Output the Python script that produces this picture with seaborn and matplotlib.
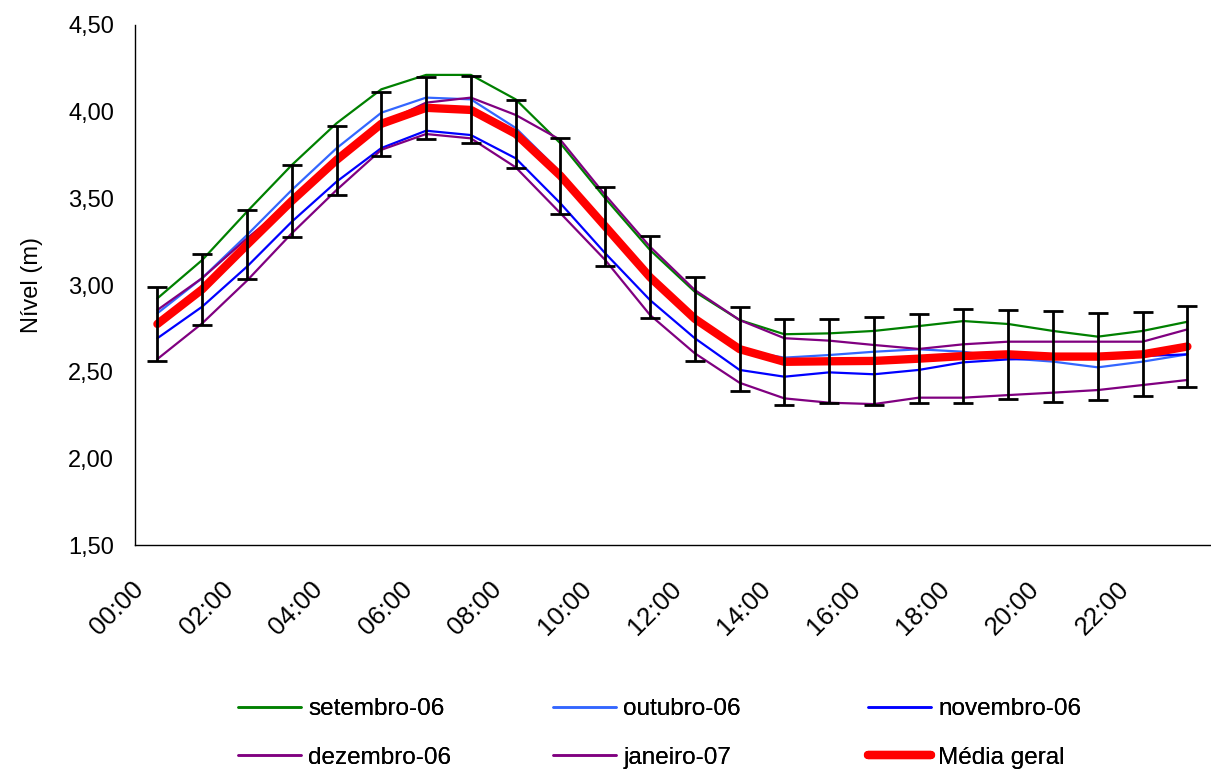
import matplotlib
matplotlib.use("Agg")
import matplotlib.pyplot as plt
import pandas as pd
import seaborn as sns
from matplotlib.ticker import FuncFormatter, FixedLocator

# Hours of the day (categories)
horas = ['%02d:00' % h for h in range(24)]

# Monthly mean level per hour (m)
setembro_06 = [2.923, 3.144, 3.423, 3.692, 3.933, 4.129, 4.212, 4.212, 4.071, 3.817, 3.500, 3.202,
               2.961, 2.798, 2.716, 2.721, 2.735, 2.763, 2.792, 2.775, 2.735, 2.702, 2.735, 2.788]
outubro_06 = [2.837, 3.040, 3.288, 3.548, 3.789, 3.994, 4.081, 4.071, 3.906, 3.650, 3.350, 3.060,
              2.790, 2.625, 2.581, 2.596, 2.615, 2.629, 2.615, 2.577, 2.558, 2.525, 2.558, 2.600]
novembro_06 = [2.693, 2.875, 3.106, 3.365, 3.596, 3.790, 3.890, 3.865, 3.731, 3.471, 3.183, 2.913,
               2.693, 2.510, 2.471, 2.496, 2.485, 2.510, 2.554, 2.571, 2.575, 2.580, 2.590, 2.600]
dezembro_06 = [2.856, 3.040, 3.269, 3.480, 3.710, 3.930, 4.052, 4.081, 3.981, 3.837, 3.519, 3.221,
               2.971, 2.798, 2.693, 2.679, 2.654, 2.631, 2.658, 2.673, 2.673, 2.673, 2.673, 2.744]
janeiro_07 = [2.573, 2.779, 3.025, 3.298, 3.548, 3.780, 3.871, 3.846, 3.679, 3.414, 3.144, 2.827,
              2.606, 2.436, 2.346, 2.321, 2.313, 2.350, 2.350, 2.365, 2.379, 2.394, 2.423, 2.452]

# overall mean and its error bar half-width
media_geral = [2.775, 2.975, 3.232, 3.485, 3.721, 3.930, 4.022, 4.010, 3.872, 3.630, 3.338, 3.045,
               2.805, 2.630, 2.557, 2.560, 2.562, 2.575, 2.590, 2.600, 2.587, 2.587, 2.600, 2.645]
erro = [0.213, 0.206, 0.198, 0.206, 0.199, 0.184, 0.178, 0.193, 0.197, 0.219, 0.228, 0.236,
        0.242, 0.243, 0.248, 0.241, 0.255, 0.256, 0.271, 0.255, 0.263, 0.250, 0.243, 0.234]

meses = ['setembro-06', 'outubro-06', 'novembro-06', 'dezembro-06', 'janeiro-07']
series = [setembro_06, outubro_06, novembro_06, dezembro_06, janeiro_07]
cores = ['#008000', '#3366FF', '#0000FF', '#800080', '#800080']

# long-form table for seaborn
df = pd.DataFrame({
    'pos': list(range(24)) * len(meses),
    'nivel': [v for s in series for v in s],
    'mes': [m for m in meses for _ in range(24)],
})
df_media = pd.DataFrame({'pos': range(24), 'nivel': media_geral, 'erro': erro})

sns.set_style('white')
plt.rcParams['font.family'] = ['Liberation Sans', 'DejaVu Sans']
plt.rcParams.update({'text.color': 'black', 'axes.labelcolor': 'black',
                     'xtick.color': 'black', 'ytick.color': 'black'})
FS = 17

fig = plt.figure(figsize=(12.11, 7.71), dpi=100)
ax = fig.add_axes([0.1115, 0.2931, 0.8875, 0.6745])

sns.lineplot(data=df, x='pos', y='nivel', hue='mes', hue_order=meses,
             palette=dict(zip(meses, cores)), linewidth=1.6, ax=ax, legend=False)
sns.lineplot(data=df_media, x='pos', y='nivel', color='#FF0000', linewidth=6,
             solid_capstyle='round', ax=ax, legend=False)
ax.errorbar(df_media['pos'], df_media['nivel'], yerr=df_media['erro'], fmt='none',
            ecolor='black', elinewidth=2, capsize=7, capthick=2, zorder=5)

# legend: one small legend per column, row-wise order like the original
handles = [plt.Line2D([], [], color=c, lw=1.8) for c in cores]
handles.append(plt.Line2D([], [], color='#FF0000', lw=6, solid_capstyle='round'))
labels = meses + ['Média geral']
col_x = [238, 553, 868]
for j, x0 in enumerate(col_x):
    leg = fig.legend([handles[j], handles[j + 3]], [labels[j], labels[j + 3]],
                     loc='upper left', bbox_to_anchor=(x0 / 1211, 1 - 698 / 771),
                     frameon=False, fontsize=17.5, handlelength=2.6, handletextpad=0.3,
                     labelspacing=1.1, borderpad=0, borderaxespad=0)
    fig.add_artist(leg)

# axes
ax.set_xlim(-0.5, 23.5)
ax.set_ylim(1.5, 4.5)
ax.set_yticks([1.5, 2.0, 2.5, 3.0, 3.5, 4.0, 4.5])
ax.yaxis.set_major_formatter(FuncFormatter(lambda v, p: ('%.2f' % v).replace('.', ',')))
# label anchors sit a little left of the category centre, like Excel does
ax.xaxis.set_major_locator(FixedLocator([i - 0.2 for i in range(0, 24, 2)]))
ax.set_xticklabels(horas[::2], rotation=45, ha='right', va='bottom', rotation_mode='anchor')
ax.xaxis.set_minor_locator(FixedLocator([i - 0.5 for i in range(25)]))
ax.tick_params(axis='x', which='major', length=0, pad=35, labelsize=18.5)
ax.tick_params(axis='x', which='minor', length=5, width=1, color='black', direction='out')
ax.tick_params(axis='y', length=5, width=1, color='black', direction='out', pad=10, labelsize=FS)
ax.set_xlabel('')
ax.set_ylabel('Nível (m)', fontsize=FS, labelpad=18)
for s in ['top', 'right']:
    ax.spines[s].set_visible(False)
for s in ['left', 'bottom']:
    ax.spines[s].set_color('black')
    ax.spines[s].set_linewidth(1)

fig.savefig('out.png', dpi=100)
